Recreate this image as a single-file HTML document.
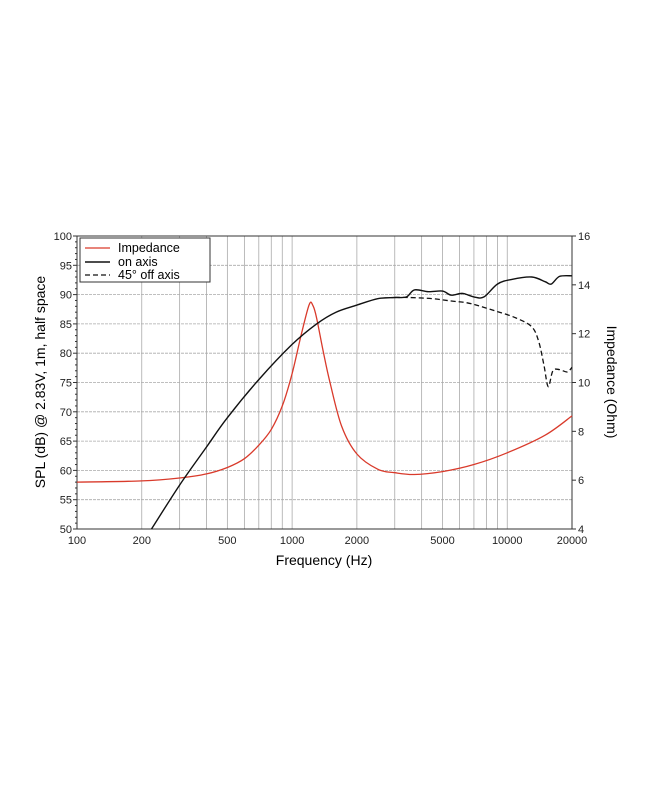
<!DOCTYPE html>
<html><head><meta charset="utf-8"><style>
html,body{margin:0;padding:0;background:#fff;}
svg{display:block;font-family:"Liberation Sans",Arial,sans-serif;}
</style></head><body>
<svg id="s" width="650" height="794" viewBox="0 0 650 794" xmlns="http://www.w3.org/2000/svg">
<g id="grid"></g>
<rect x="77" y="236" width="495" height="293" fill="none" stroke="#333" stroke-width="1"/>
<g id="ticks" font-size="11" fill="#222"></g>
<path id="imp" fill="none" stroke="#d93a2b" stroke-width="1.3"/>
<path id="on" fill="none" stroke="#111" stroke-width="1.4"/>
<path id="off" fill="none" stroke="#111" stroke-width="1.3" stroke-dasharray="5,3"/>
<g>
<rect x="80" y="238" width="130" height="44" fill="#fff" stroke="#333" stroke-width="1"/>
<line x1="85" y1="248" x2="110" y2="248" stroke="#d93a2b" stroke-width="1.3"/>
<line x1="85" y1="262" x2="110" y2="262" stroke="#111" stroke-width="1.4"/>
<line x1="85" y1="275" x2="110" y2="275" stroke="#111" stroke-width="1.3" stroke-dasharray="5,3"/>
<text x="118" y="252" font-size="12.5">Impedance</text>
<text x="118" y="266" font-size="12.5">on axis</text>
<text x="118" y="279" font-size="12.5">45° off axis</text>
</g>
<text x="324" y="565" font-size="14" text-anchor="middle">Frequency (Hz)</text>
<text transform="translate(45,382) rotate(-90)" font-size="14" text-anchor="middle">SPL (dB) @ 2.83V, 1m, half space</text>
<text transform="translate(607,382) rotate(90)" font-size="14" text-anchor="middle">Impedance (Ohm)</text>
</svg>
<script>
var L=77,R=572,T=236,B=529;
function X(f){return L+(Math.log10(f)-2)/Math.log10(200)*(R-L);}
function Y(d){return B-(d-50)/50*(B-T);}
var g=document.getElementById('grid'),tk=document.getElementById('ticks'),ns="http://www.w3.org/2000/svg";
function el(p,t,a,txt){var e=document.createElementNS(ns,t);for(var k in a)e.setAttribute(k,a[k]);if(txt!=null)e.textContent=txt;p.appendChild(e);return e;}
var fs=[200,300,400,500,600,700,800,900,1000,2000,3000,4000,5000,6000,7000,8000,9000,10000];
fs.forEach(function(f){el(g,'line',{x1:X(f),x2:X(f),y1:T,y2:B,stroke:'#aaa','stroke-width':0.8});});
for(var d=55;d<100;d+=5)el(g,'line',{x1:L,x2:R,y1:Y(d),y2:Y(d),stroke:'#aaa','stroke-width':0.8,'stroke-dasharray':'3,1'});
for(var d=50;d<=100;d+=5){el(tk,'text',{x:L-5,y:Y(d)+4,'text-anchor':'end'},d);el(tk,'line',{x1:L-4,x2:L,y1:Y(d),y2:Y(d),stroke:'#333'});}
for(var d=51;d<100;d++)if(d%5)el(tk,'line',{x1:L-2,x2:L,y1:Y(d),y2:Y(d),stroke:'#333'});
for(var o=4;o<=16;o+=2){var y=B-(o-4)/12*(B-T);el(tk,'text',{x:R+6,y:y+4},o);el(tk,'line',{x1:R,x2:R+4,y1:y,y2:y,stroke:'#333'});}
[100,200,500,1000,2000,5000,10000,20000].forEach(function(f){el(tk,'text',{x:X(f),y:B+15,'text-anchor':'middle'},f);});
function path(pts){var P=pts.map(function(p){return [X(p[0]),Y(p[1])];});var s="M"+P[0][0].toFixed(1)+","+P[0][1].toFixed(1);
for(var i=0;i<P.length-1;i++){var p0=P[Math.max(0,i-1)],p1=P[i],p2=P[i+1],p3=P[Math.min(P.length-1,i+2)];
var c1=[p1[0]+(p2[0]-p0[0])/6,p1[1]+(p2[1]-p0[1])/6],c2=[p2[0]-(p3[0]-p1[0])/6,p2[1]-(p3[1]-p1[1])/6];
s+=" C"+c1[0].toFixed(1)+","+c1[1].toFixed(1)+" "+c2[0].toFixed(1)+","+c2[1].toFixed(1)+" "+p2[0].toFixed(1)+","+p2[1].toFixed(1);}return s;}
var imp=[[100,58],[200,58.2],[300,58.7],[400,59.4],[500,60.5],[600,62],[700,64.3],[800,67],[900,71],[1000,76.5],[1100,83],[1200,88.3],[1250,88.1],[1300,86],[1400,80],[1500,75],[1700,67.5],[2000,62.8],[2500,60.2],[3000,59.6],[3700,59.3],[5000,59.8],[7000,61],[10000,63],[15000,66],[20000,69.3]];
var on=[[222,50],[300,57.5],[400,64],[500,69],[700,75.5],[1000,81.5],[1300,85],[1600,87],[2000,88.2],[2500,89.3],[3000,89.5],[3400,89.6],[3700,90.8],[4300,90.5],[5000,90.6],[5500,89.9],[6200,90.2],[7000,89.6],[7800,89.6],[9000,91.8],[10500,92.6],[13000,93],[15000,92.2],[16000,91.8],[17500,93.1],[20000,93.2]];
var off=[[3000,89.5],[3500,89.5],[4500,89.3],[5500,88.9],[6500,88.6],[7500,88],[9000,87.1],[11000,86],[13000,84.5],[14000,82],[14800,78],[15500,74.3],[16300,77],[17500,77.2],[19000,76.8],[20000,77.6]];
document.getElementById('imp').setAttribute('d',path(imp));
document.getElementById('on').setAttribute('d',path(on));
document.getElementById('off').setAttribute('d',path(off));
</script>
</body></html>
